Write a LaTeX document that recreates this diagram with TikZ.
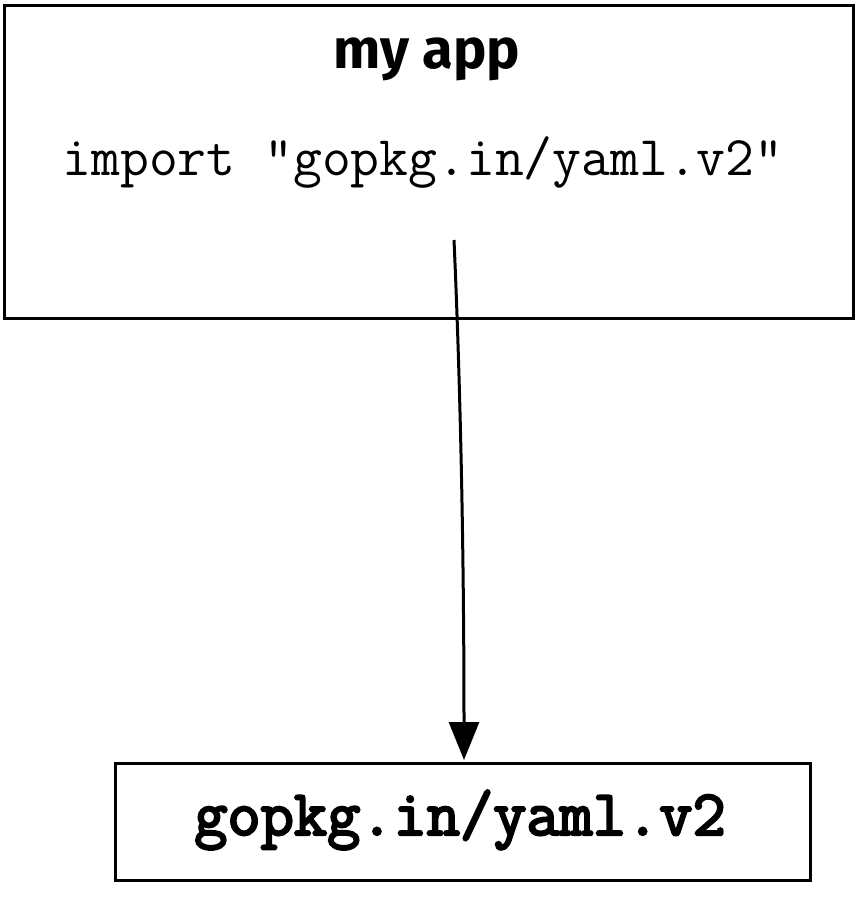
\documentclass[tikz,border=0pt]{standalone}
\usepackage{fontspec}
\newfontfamily\titlefont{Fira Sans}
\newfontfamily\pkgfont{Latin Modern Mono}[FakeBold=3.5]
\usetikzlibrary{arrows.meta}
\begin{document}
\begin{tikzpicture}[x=1pt,y=-1pt,
  boxstyle/.style={draw=black,line width=3.2pt},
  conn/.style={line width=3pt,-{Triangle[length=38pt,width=30pt]}}]
\useasboundingbox (0,0) rectangle (856,900);
\node[boxstyle,minimum width=849pt,minimum height=313pt,inner sep=0pt,anchor=north west] (app) at (3,4) {};
\node[anchor=base,inner sep=0pt,font=\titlefont\bfseries\fontsize{56}{66}\selectfont] (title) at (427,68) {my app};
\node[anchor=base,inner sep=0pt,font=\ttfamily\fontsize{56}{64}\selectfont] (imp) at (423,175) {import "gopkg.in/yaml.v2"};
\node[boxstyle,minimum width=695pt,minimum height=117pt,inner sep=0pt,anchor=north west] (pkg) at (114,762) {};
\node[anchor=base,inner sep=0pt,font=\pkgfont\fontsize{64.5}{72}\selectfont] (pkgtext) at (460,835) {gopkg.in/yaml.v2};
\coordinate (start) at (454,240);
\coordinate (tip) at (464,760);
\draw[conn] (start) .. controls (462,420) and (464,600) .. (tip);
\end{tikzpicture}
\end{document}
